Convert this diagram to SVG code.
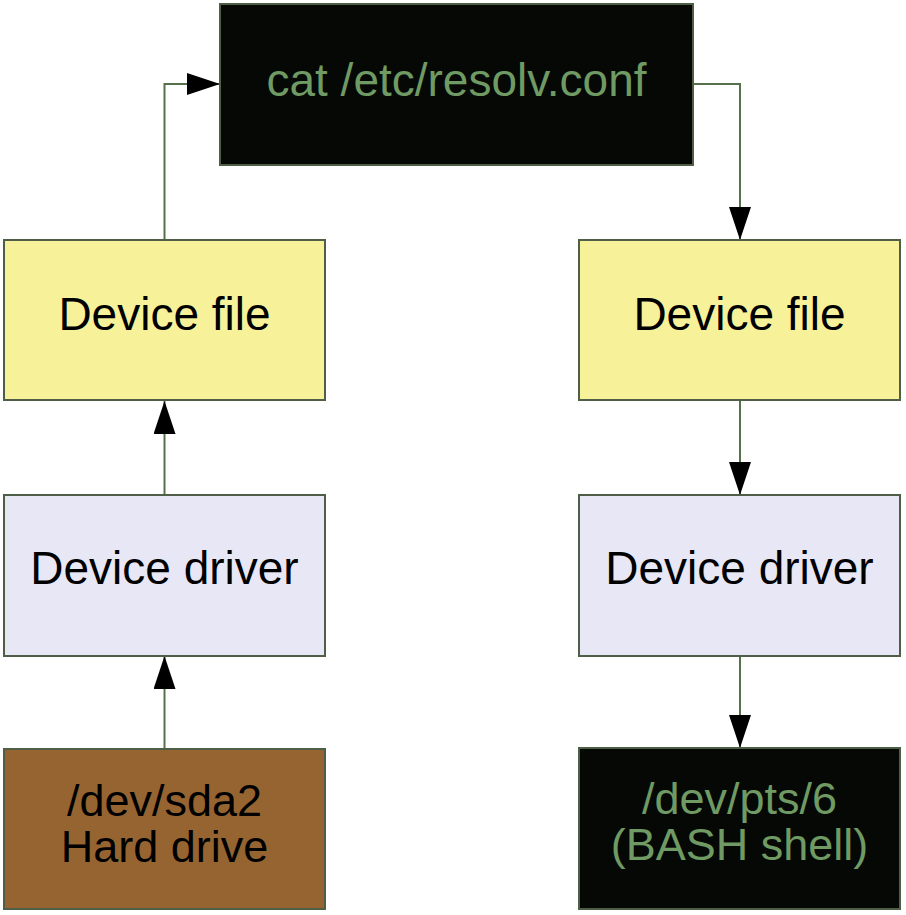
<svg xmlns="http://www.w3.org/2000/svg" width="906" height="915" viewBox="0 0 906 915">
<style>
.box{stroke:#4f5f47;stroke-width:2}
.dark{fill:#050805}
.yellow{fill:#f7f29a}
.lav{fill:#e7e7f6}
.brown{fill:#966431}
.t{font-family:"Liberation Sans",Arial,sans-serif;font-size:46px;text-anchor:middle}
.t2{font-size:45px}
.tb{fill:#000}
.tg{fill:#6f9a63}
.conn{fill:none;stroke:#56704c;stroke-width:2}
</style>
<defs>
<marker id="ah" markerWidth="33" markerHeight="22" refX="33" refY="11" orient="auto" markerUnits="userSpaceOnUse">
<path d="M0,0 L33,11 L0,22 Z" fill="#000"/>
</marker>
</defs>
<rect width="906" height="915" fill="#fff"/>
<g id="connectors">
<path class="conn" d="M164.5,240 L164.5,84 L220,84" marker-end="url(#ah)"/>
<path class="conn" d="M693,84 L740,84 L740,240" marker-end="url(#ah)"/>
<path class="conn" d="M164.5,495 L164.5,401" marker-end="url(#ah)"/>
<path class="conn" d="M164.5,749 L164.5,656" marker-end="url(#ah)"/>
<path class="conn" d="M740,400 L740,495" marker-end="url(#ah)"/>
<path class="conn" d="M740,656 L740,748" marker-end="url(#ah)"/>
</g>
<g id="cat">
<rect class="box dark" x="220" y="4" width="473" height="161"/>
<text class="t tg" x="456.5" y="96">cat /etc/resolv.conf</text>
</g>
<g id="devfile-left">
<rect class="box yellow" x="4" y="240" width="321" height="160"/>
<text class="t tb" x="164.5" y="330">Device file</text>
</g>
<g id="devfile-right">
<rect class="box yellow" x="579" y="240" width="321" height="160"/>
<text class="t tb" x="739.5" y="330">Device file</text>
</g>
<g id="driver-left">
<rect class="box lav" x="4" y="495" width="321" height="161"/>
<text class="t tb" x="164.5" y="584">Device driver</text>
</g>
<g id="driver-right">
<rect class="box lav" x="579" y="495" width="321" height="161"/>
<text class="t tb" x="739.5" y="584">Device driver</text>
</g>
<g id="sda2">
<rect class="box brown" x="4" y="749" width="321" height="160"/>
<text class="t t2 tb" x="164.5" y="816">/dev/sda2</text>
<text class="t t2 tb" x="164.5" y="862">Hard drive</text>
</g>
<g id="pts6">
<rect class="box dark" x="579" y="748" width="321" height="161"/>
<text class="t t2 tg" x="739.5" y="814">/dev/pts/6</text>
<text class="t t2 tg" x="739.5" y="860">(BASH shell)</text>
</g>
</svg>
